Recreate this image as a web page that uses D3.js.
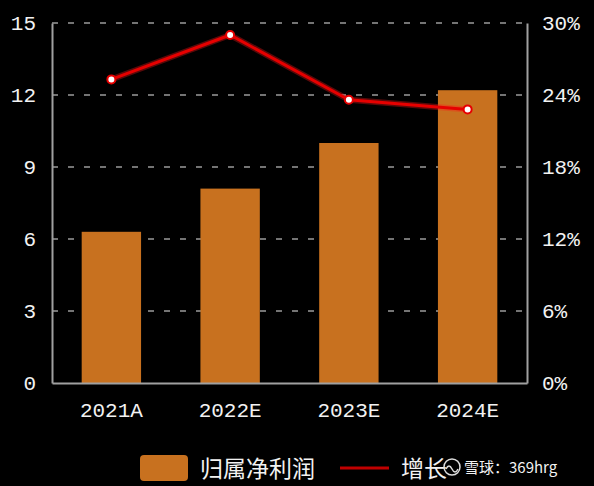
<!DOCTYPE html>
<html>
<head>
<meta charset="utf-8">
<style>
  html, body { margin: 0; padding: 0; background: #000; }
  svg { display: block; }
  .tick text { fill: #f2f2f2; font-family: "Liberation Mono", monospace; font-size: 21px; }
  .legend text { fill: #f2f2f2; font-family: "Noto Sans CJK SC", sans-serif; }
</style>
<script src="https://cdn.jsdelivr.net/npm/d3@7"></script>
</head>
<body>
<div id="chart"></div>
<script>
var categories = ['2021A', '2022E', '2023E', '2024E'];
var profit = [6.3, 8.1, 10.0, 12.2];     // 归属净利润
var growth = [25.3, 29.0, 23.6, 22.8];   // 增长 (%)
var leftTicks = [0, 3, 6, 9, 12, 15];
var rightTicks = [0, 6, 12, 18, 24, 30];

var W = 594, H = 486;
var m = { top: 23, right: 67, bottom: 103, left: 52 };

var svg = d3.select('#chart').append('svg')
    .attr('width', W)
    .attr('height', H);

svg.append('rect').attr('width', W).attr('height', H).attr('fill', '#000');

var x = d3.scaleBand()
    .domain(categories)
    .range([m.left, W - m.right])
    .paddingInner(0.5)
    .paddingOuter(0.25);

var yL = d3.scaleLinear().domain([0, 15]).range([H - m.bottom, m.top]);
var yR = d3.scaleLinear().domain([0, 30]).range([H - m.bottom, m.top]);

// dashed gridlines
svg.append('g')
    .selectAll('line')
    .data(leftTicks.filter(function(d) { return d > 0; }))
    .enter().append('line')
    .attr('x1', m.left)
    .attr('x2', W - m.right)
    .attr('y1', function(d) { return yL(d); })
    .attr('y2', function(d) { return yL(d); })
    .attr('stroke', '#9a9a9a')
    .attr('stroke-width', 1.5)
    .attr('stroke-dasharray', '6,10');

// bars
svg.append('g')
    .selectAll('rect')
    .data(profit)
    .enter().append('rect')
    .attr('x', function(d, i) { return x(categories[i]); })
    .attr('y', function(d) { return yL(d); })
    .attr('width', x.bandwidth())
    .attr('height', function(d) { return yL(0) - yL(d); })
    .attr('fill', '#c8711f');

// axes
var axL = svg.append('g')
    .attr('transform', 'translate(' + m.left + ',0)')
    .call(d3.axisLeft(yL).tickValues(leftTicks).tickSize(0).tickPadding(16));
var axR = svg.append('g')
    .attr('transform', 'translate(' + (W - m.right) + ',0)')
    .call(d3.axisRight(yR).tickValues(rightTicks).tickSize(0).tickPadding(15)
        .tickFormat(function(d) { return d + '%'; }));
var axB = svg.append('g')
    .attr('transform', 'translate(0,' + yL(0) + ')')
    .call(d3.axisBottom(x).tickSize(0).tickPadding(19));

[axL, axR, axB].forEach(function(a) {
    a.select('.domain').attr('stroke', '#a0a0a0').attr('stroke-width', 2);
});

// growth line
var line = d3.line()
    .x(function(d, i) { return x(categories[i]) + x.bandwidth() / 2; })
    .y(function(d) { return yR(d); });

svg.append('path')
    .datum(growth)
    .attr('d', line)
    .attr('fill', 'none')
    .attr('stroke', '#ff1a1a')
    .attr('stroke-opacity', 0.35)
    .attr('stroke-width', 6);
svg.append('path')
    .datum(growth)
    .attr('d', line)
    .attr('fill', 'none')
    .attr('stroke', '#e60000')
    .attr('stroke-width', 3);

svg.append('g')
    .selectAll('circle')
    .data(growth)
    .enter().append('circle')
    .attr('cx', function(d, i) { return x(categories[i]) + x.bandwidth() / 2; })
    .attr('cy', function(d) { return yR(d); })
    .attr('r', 4)
    .attr('fill', '#fff')
    .attr('stroke', '#e60000')
    .attr('stroke-width', 2);

// legend
var lg = svg.append('g').attr('class', 'legend');
lg.append('rect')
    .attr('x', 140).attr('y', 455)
    .attr('width', 48).attr('height', 26)
    .attr('rx', 4)
    .attr('fill', '#c8711f');
lg.append('text')
    .attr('x', 200).attr('y', 477)
    .style('font-size', '23px')
    .text('归属净利润');
lg.append('line')
    .attr('x1', 340).attr('x2', 389)
    .attr('y1', 468).attr('y2', 468)
    .attr('stroke', '#c00000')
    .attr('stroke-width', 3);
lg.append('text')
    .attr('x', 401).attr('y', 477)
    .style('font-size', '23px')
    .text('增长');

// watermark
lg.append('circle')
    .attr('cx', 452).attr('cy', 467).attr('r', 8)
    .attr('fill', 'none').attr('stroke', '#ddd').attr('stroke-width', 1.5);
lg.append('path')
    .attr('d', 'M446,469 q3,-6 6,0 q3,6 6,0')
    .attr('fill', 'none').attr('stroke', '#ddd').attr('stroke-width', 1.5);
lg.append('text')
    .attr('x', 464).attr('y', 473)
    .style('font-size', '15px')
    .attr('fill', '#ddd')
    .text('雪球：369hrg');
</script>
</body>
</html>
